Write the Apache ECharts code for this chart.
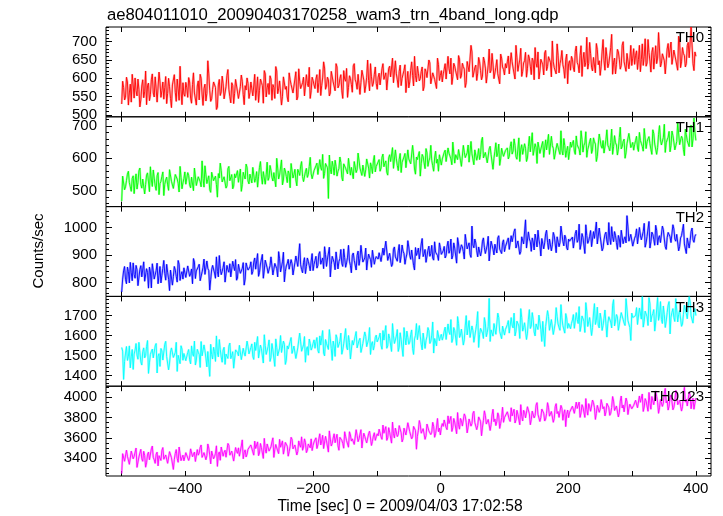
<!DOCTYPE html>
<html>
<head>
<meta charset="utf-8">
<script src="https://cdn.jsdelivr.net/npm/echarts@6/dist/echarts.min.js"></script>
<style>html,body{margin:0;padding:0;background:#fff;}#c{width:723px;height:516px;}</style>
</head>
<body>
<div id="c"></div>
<script>
// ---- data (counts/sec). Main bins start at T_START every T_STEP s; *_mid bins lie half a step later ----
const T_START = -500, T_STEP = 3;
const panelNames = ['TH0', 'TH1', 'TH2', 'TH3', 'TH0123'];
const TH0 = [530,575,548,590,560,535,582,601,552,570,541,596,563,528,587,555,612,549,571,530,590,566,543,605,559,577,520,584,562,598,540,569,588,551,
574,602,546,583,560,527,593,611,557,572,538,648,566,544,590,575,521,597,563,585,549,608,570,533,581,559,600,545,577,592,528,568,586,
561,595,579,540,604,567,589,532,612,574,556,598,583,545,620,571,590,551,607,578,536,596,585,563,618,549,592,575,603,557,586,630,566,594,
572,610,589,553,601,628,579,596,560,615,587,640,574,599,566,621,592,548,607,583,634,596,570,612,589,625,561,603,594,640,578,611,586,
603,582,626,597,615,571,633,605,588,648,596,619,580,611,637,593,574,622,608,660,590,614,599,631,577,618,605,642,586,613,600,655,594,621,
612,640,598,627,655,604,633,618,662,600,641,625,588,650,619,672,607,636,614,645,596,658,628,611,680,622,639,603,651,617,666,631,609,
628,661,614,645,632,690,619,650,605,642,671,626,655,610,648,684,630,598,652,637,669,621,659,644,702,629,612,663,640,676,625,651,585,648,
660,628,674,643,615,689,650,632,712,641,667,620,656,695,637,608,672,648,684,629,661,720,644,612,679,652,635,700,646,668,626,690,655,
638,675,652,618,694,660,633,706,647,671,625,689,655,730,641,668,612,680,657,699,636,672,648,715,629,684,662,640,698,655,738,621,660];
const TH0_mid = [592,541,603,527,584,611,546,566,598,522,579,547,620,581,539,596,560,604,535,617,548,590,575,531,600,545,582,610,537,571,633,528,557,589,
548,590,532,615,561,579,541,600,526,584,559,612,537,570,595,515,582,553,606,544,577,624,550,588,531,597,563,540,609,556,580,601,545,
590,552,611,568,534,598,580,621,549,586,607,540,575,632,558,593,527,604,570,549,615,583,560,598,541,626,572,588,552,610,577,545,603,582,
598,561,624,580,645,570,603,552,619,590,566,631,581,610,545,598,627,575,600,562,640,588,611,556,622,595,579,650,566,604,587,631,570,
614,585,640,596,568,627,604,655,588,612,575,636,600,622,561,619,590,645,579,607,633,593,618,566,626,602,650,585,615,597,572,638,608,590,
625,598,660,612,583,641,620,596,652,607,632,575,646,618,690,603,629,594,657,621,606,648,587,636,615,668,599,630,612,585,655,624,640,
645,612,670,628,598,656,637,682,619,648,603,664,633,655,596,641,672,620,650,609,676,632,661,604,645,626,694,615,652,637,600,666,640,622,
652,618,688,636,662,605,671,644,625,698,630,657,615,679,648,633,706,622,660,640,684,611,655,638,672,625,690,645,619,667,650,635,681,
663,624,690,651,635,708,642,670,617,684,656,640,725,631,667,648,612,695,660,638,677,650,622,702,645,668,631,689,656,740,640,672];
const TH1 = [468,540,512,551,525,498,546,530,505,561,519,536,490,548,527,574,513,539,501,556,522,544,485,533,518,565,529,507,550,536,496,541,524,558,
521,547,509,538,570,516,543,528,592,511,549,535,503,557,531,545,480,539,562,522,548,515,575,533,506,552,541,526,567,519,546,582,530,
551,524,566,538,511,572,545,559,520,588,541,563,530,555,600,536,549,518,570,544,561,509,578,550,533,566,547,590,528,559,541,575,552,536,
562,585,547,571,612,553,580,476,566,591,548,575,560,604,541,583,569,552,596,572,537,588,565,620,558,579,544,598,570,586,553,609,575,
581,560,603,574,592,548,611,585,569,626,578,597,556,589,615,572,598,583,640,567,604,590,545,612,586,630,575,601,593,560,622,597,611,579,
604,625,588,616,598,650,585,610,627,594,571,619,603,641,592,614,580,632,607,596,655,601,618,586,629,611,566,622,605,644,598,617,609,
620,598,636,613,660,605,628,590,642,617,631,601,668,622,609,645,584,633,619,652,608,626,674,615,639,597,631,648,612,625,661,603,637,620,
634,655,612,641,628,685,619,647,603,638,662,626,651,590,644,672,631,616,657,640,623,690,636,648,610,664,629,652,600,645,677,633,649,
642,668,621,655,637,692,630,660,645,612,676,650,633,701,641,664,618,657,683,639,670,626,652,715,644,661,608,673,650,695,635,724,655];
const TH1_mid = [545,503,531,560,512,538,491,552,526,570,508,541,519,555,497,533,564,515,546,488,529,558,520,542,501,567,534,511,549,523,575,506,537,520,
556,518,542,500,565,530,549,512,538,577,522,546,495,560,534,519,553,585,527,543,508,568,531,550,514,540,562,525,498,557,536,572,521,
538,572,526,559,543,590,520,565,549,532,578,541,556,512,570,548,595,533,561,525,553,584,539,566,515,557,576,544,529,569,550,603,537,562,
577,550,596,563,538,584,571,610,552,575,594,545,568,587,530,579,561,600,548,573,590,556,616,570,547,582,565,604,539,575,592,558,580,
596,570,613,585,557,601,590,633,575,598,562,615,588,604,571,626,594,579,610,551,596,621,583,605,568,617,592,640,577,601,585,560,612,598,
618,590,632,607,580,645,611,596,623,575,640,602,617,588,652,609,626,594,630,612,665,598,621,585,637,610,600,648,616,578,631,606,624,
632,606,651,622,640,597,663,628,612,645,590,637,620,679,608,633,650,615,641,603,657,626,612,668,631,598,646,622,685,610,639,624,596,650,
646,622,669,637,610,658,640,682,627,652,615,663,644,606,675,638,655,620,688,633,649,612,670,641,628,696,636,659,617,651,682,640,625,
655,632,680,646,622,697,651,667,628,688,644,612,673,657,636,705,648,665,620,684,650,639,710,642,668,627,690,654,636,702,660,681];
const TH2 = [765,842,810,856,798,835,871,815,846,790,861,827,804,850,779,838,868,812,843,795,858,826,880,808,837,770,852,821,845,801,866,829,812,849,
818,863,831,795,874,842,857,806,838,885,824,851,772,846,869,815,840,898,828,855,801,862,837,820,877,843,808,866,833,851,790,871,845,
856,829,874,848,905,836,862,815,881,853,840,893,827,869,850,912,838,875,802,860,884,845,868,821,896,858,941,847,873,832,889,861,878,843,
880,852,903,866,889,930,858,884,820,895,872,911,849,886,869,922,855,892,877,835,907,881,898,862,935,874,889,845,903,883,917,866,894,
885,912,871,899,950,880,906,858,921,893,877,938,896,914,866,903,929,884,911,845,898,925,889,960,904,873,917,895,935,881,910,898,944,902,
915,889,932,906,958,897,925,870,940,912,929,885,948,919,902,1005,926,944,893,931,915,962,905,936,878,950,921,939,907,970,928,945,912,
936,962,917,948,985,925,951,902,966,940,1028,931,958,913,947,976,929,955,896,962,944,990,920,951,937,970,908,959,945,1001,933,962,918,950,
957,925,978,946,1012,939,964,905,971,952,989,930,960,1020,944,968,915,955,983,936,962,1003,948,971,920,958,990,941,966,1043,950,975,932,
961,995,938,972,950,1015,944,968,925,983,957,1008,936,970,949,992,930,963,985,945,1010,958,975,915,962,990,940,905,967,952,998,946,975];
const TH2_mid = [812,858,795,840,873,806,829,862,788,847,820,875,803,836,856,780,842,815,870,826,798,851,833,866,811,845,790,858,822,880,807,839,853,818,
860,822,849,887,814,838,866,801,855,829,878,843,810,862,834,893,820,851,840,875,808,846,868,825,859,883,816,848,835,872,812,857,839,
875,840,889,853,822,867,902,845,878,833,861,895,848,874,820,886,856,910,839,869,848,883,827,872,899,851,864,835,890,858,877,842,905,866,
895,862,912,878,850,901,885,928,866,893,846,908,876,920,858,890,871,935,862,899,880,845,914,887,903,869,925,878,892,855,910,884,901,
908,876,925,893,944,880,911,866,929,897,915,872,936,905,888,952,899,918,862,927,909,885,940,894,920,873,932,905,889,948,912,880,926,903,
931,898,950,917,885,944,925,963,906,937,912,975,922,944,891,936,958,915,929,896,950,927,910,968,918,945,900,938,962,921,905,955,930,
952,920,970,941,995,928,956,912,973,945,925,984,948,962,918,955,990,936,960,922,977,946,958,915,982,940,966,930,1005,950,972,926,958,944,
965,932,990,955,920,978,960,1010,942,968,930,985,956,940,998,962,925,975,950,1018,938,966,985,945,971,928,990,958,944,1002,952,968,936,
970,940,1000,955,985,928,968,1022,948,975,935,990,962,945,1005,958,920,982,966,940,995,950,978,930,970,1012,944,962,925,985,955,968];
const TH3 = [1540,1380,1512,1475,1548,1493,1430,1527,1502,1566,1468,1519,1488,1545,1410,1506,1532,1479,1560,1497,1445,1523,1485,1571,1501,1462,1538,1490,1515,1420,1507,1549,1476,1520,
1483,1530,1458,1509,1572,1476,1516,1440,1498,1553,1487,1520,1395,1505,1541,1470,1512,1580,1492,1527,1455,1508,1547,1484,1519,1430,1535,1498,1560,1474,1513,1490,1545,
1502,1558,1480,1525,1595,1497,1534,1462,1549,1515,1578,1490,1528,1445,1541,1506,1600,1519,1556,1475,1532,1570,1510,1547,1485,1538,1612,1521,1553,1466,1544,1582,1527,1560,
1536,1590,1512,1552,1625,1498,1561,1530,1583,1475,1547,1604,1540,1571,1506,1558,1635,1528,1566,1491,1552,1597,1538,1575,1515,1560,1618,1544,1582,1505,1569,1550,1602,
1560,1612,1531,1577,1650,1548,1586,1520,1598,1565,1630,1541,1579,1495,1590,1622,1556,1604,1535,1583,1660,1570,1597,1528,1611,1575,1640,1560,1602,1512,1589,1625,1574,1606,
1595,1642,1570,1618,1680,1583,1625,1551,1660,1601,1635,1578,1700,1612,1590,1648,1566,1629,1720,1604,1640,1585,1662,1615,1786,1628,1597,1655,1610,1690,1621,1647,1602,
1638,1675,1606,1652,1712,1621,1660,1585,1690,1640,1668,1612,1730,1647,1680,1598,1655,1702,1630,1671,1545,1650,1695,1634,1677,1615,1740,1658,1626,1688,1644,1710,1636,1669,
1660,1705,1632,1681,1745,1648,1690,1615,1722,1668,1697,1640,1760,1675,1652,1712,1625,1686,1738,1661,1700,1638,1780,1672,1694,1620,1715,1680,1650,1732,1668,1575,1690,
1685,1740,1660,1712,1795,1672,1725,1650,1760,1698,1730,1667,1790,1703,1680,1748,1640,1715,1770,1692,1735,1670,1795,1705,1726,1658,1752,1710,1683,1768,1695,1722,1700];
const TH3_mid = [1522,1470,1545,1496,1438,1530,1507,1560,1481,1515,1452,1538,1499,1575,1463,1520,1488,1548,1412,1509,1535,1477,1556,1494,1428,1517,1542,1485,1566,1501,1459,1532,1510,1474,
1515,1478,1548,1496,1452,1531,1505,1570,1489,1524,1443,1510,1556,1482,1519,1598,1493,1530,1466,1541,1507,1485,1562,1500,1436,1528,1515,1551,1479,1536,1497,1572,1508,
1540,1495,1566,1518,1487,1552,1530,1604,1505,1545,1470,1560,1526,1583,1498,1537,1515,1572,1455,1548,1528,1590,1511,1556,1480,1543,1568,1520,1595,1533,1501,1561,1540,1578,
1569,1525,1598,1550,1512,1580,1557,1630,1534,1572,1495,1588,1546,1612,1528,1565,1541,1600,1482,1575,1553,1620,1532,1586,1510,1570,1596,1545,1640,1558,1527,1590,1568,
1592,1551,1625,1575,1536,1608,1582,1660,1560,1597,1520,1614,1570,1640,1553,1590,1567,1628,1505,1601,1579,1650,1556,1612,1535,1596,1624,1571,1668,1585,1548,1618,1594,1577,
1622,1580,1658,1605,1565,1640,1615,1695,1590,1632,1552,1648,1603,1675,1586,1625,1598,1662,1540,1636,1612,1690,1594,1645,1570,1628,1660,1606,1712,1620,1584,1652,1630,
1655,1612,1690,1638,1598,1672,1648,1735,1622,1664,1580,1682,1635,1715,1618,1658,1630,1700,1570,1668,1645,1725,1626,1680,1605,1662,1695,1640,1755,1650,1612,1688,1660,1634,
1678,1636,1715,1660,1620,1698,1672,1765,1645,1690,1600,1708,1655,1742,1638,1682,1650,1728,1592,1694,1668,1752,1648,1705,1626,1686,1720,1662,1785,1675,1640,1712,1684,
1700,1655,1738,1682,1642,1722,1694,1790,1668,1710,1622,1728,1676,1770,1660,1704,1672,1752,1608,1716,1690,1785,1668,1725,1646,1706,1745,1684,1795,1698,1662,1735];
const TH0123 = [3250,3455,3380,3420,3340,3470,3395,3435,3310,3412,3488,3370,3428,3355,3460,3402,3520,3385,3440,3325,3415,3476,3390,3432,3350,3465,3405,3290,3448,3398,3510,3376,3430,3412,
3440,3378,3492,3415,3460,3352,3430,3505,3408,3455,3385,3540,3432,3470,3395,3448,3320,3462,3510,3420,3478,3400,3525,3446,3480,3375,3468,3502,3430,3580,3455,3412,3488,
3472,3520,3430,3495,3560,3452,3505,3398,3488,3540,3470,3512,3600,3485,3530,3445,3508,3570,3492,3536,3420,3515,3585,3500,3548,3466,3530,3610,3510,3555,3478,3540,3590,3525,
3548,3495,3590,3530,3625,3512,3570,3460,3588,3545,3640,3560,3522,3605,3575,3498,3612,3580,3660,3568,3602,3530,3625,3590,3680,3584,3615,3550,3640,3598,3565,3650,3610,
3620,3668,3585,3645,3710,3600,3655,3548,3640,3695,3612,3720,3650,3590,3685,3630,3760,3660,3610,3700,3488,3672,3730,3648,3692,3620,3745,3680,3655,3712,3640,3790,3695,3705,
3712,3765,3680,3740,3810,3698,3755,3640,3728,3790,3715,3835,3750,3705,3780,3740,3860,3762,3720,3805,3620,3770,3820,3748,3795,3730,3880,3785,3760,3815,3742,3900,3798,
3790,3842,3760,3815,3880,3775,3830,3728,3812,3870,3795,3905,3835,3780,3860,3820,3945,3848,3800,3882,3765,3840,3900,3825,3870,3790,3935,3858,3815,3890,3840,3710,3872,3850,
3868,3915,3830,3888,3950,3845,3900,3800,3878,3935,3860,3970,3895,3840,3925,3880,3990,3905,3852,3940,3820,3898,3960,3875,3918,3850,4010,3922,3870,3955,3890,3935,3902,
3920,3975,3885,3948,4030,3902,3960,3860,3938,4005,3925,4060,3950,3895,3990,3940,4085,3965,3910,4020,3875,3958,4040,3945,3985,3905,4095,3980,3930,4015,3955,3880,3990];
const TH0123_mid = [3445,3370,3480,3405,3335,3452,3418,3500,3362,3430,3395,3468,3312,3440,3385,3492,3408,3350,3460,3425,3378,3505,3398,3436,3345,3470,3412,3388,3485,3360,3442,3405,3375,3455,
3472,3410,3508,3440,3368,3485,3452,3530,3392,3466,3425,3500,3345,3478,3415,3522,3440,3380,3495,3458,3410,3545,3430,3470,3372,3505,3448,3420,3520,3395,3482,3440,3470,
3530,3462,3568,3498,3425,3545,3510,3595,3450,3525,3482,3560,3408,3535,3472,3585,3500,3440,3555,3518,3465,3605,3492,3530,3432,3570,3508,3478,3590,3455,3540,3502,3475,3560,
3600,3530,3640,3568,3495,3615,3582,3668,3520,3598,3552,3635,3478,3610,3545,3660,3572,3508,3628,3590,3535,3680,3562,3605,3500,3645,3580,3548,3665,3525,3618,3575,3640,
3685,3610,3725,3650,3575,3700,3665,3755,3598,3680,3632,3722,3560,3695,3628,3748,3660,3590,3712,3672,3615,3770,3645,3690,3585,3735,3668,3632,3752,3605,3705,3660,3628,3740,
3775,3700,3815,3738,3662,3790,3755,3848,3685,3770,3720,3812,3648,3785,3715,3840,3750,3680,3805,3762,3705,3865,3735,3780,3672,3825,3758,3720,3845,3692,3798,3752,3785,
3855,3780,3895,3818,3745,3870,3835,3925,3765,3850,3800,3892,3728,3862,3795,3920,3830,3760,3882,3842,3785,3945,3812,3858,3752,3905,3838,3800,3918,3772,3875,3830,3798,3868,
3910,3840,3950,3875,3800,3925,3890,3985,3822,3905,3858,3945,3780,3918,3850,3975,3885,3815,3938,3898,3840,4005,3868,3912,3805,3960,3892,3855,3990,3828,3930,3885,3918,
3968,3895,4010,3932,3858,3985,3950,4045,3880,3962,3915,4005,3840,3975,3908,4035,3942,3872,3995,3955,3898,4065,3925,3970,3862,4020,3950,3912,4050,3885,3988,3940];
const seriesMain = [TH0, TH1, TH2, TH3, TH0123];
const seriesMid = [TH0_mid, TH1_mid, TH2_mid, TH3_mid, TH0123_mid];

// axis ranges and tick labels
const X_MIN = -524.6, X_MAX = 423.7;
const xTickValues = [-500, -400, -300, -200, -100, 0, 100, 200, 300, 400];
const xLabelValues = [-400, -200, 0, 200, 400];
const yMins = [495, 451, 749, 1346, 3226];
const yMaxs = [740, 728, 1076, 1796, 4106];
const yLabelValues = [
  [500, 550, 600, 650, 700],
  [500, 600, 700],
  [800, 900, 1000],
  [1400, 1500, 1600, 1700],
  [3400, 3600, 3800, 4000]
];
const yMinorSteps = [10, 20, 20, 20, 50];
const colors = ['#ff0000', '#00ff00', '#0000ff', '#00ffff', '#ff00ff'];

// ---- build chart ----
const FONT = '"Liberation Sans", Arial, Helvetica, sans-serif';
const GRID_TOP = 27, GRID_H = 89.8, GRID_LEFT = 106, GRID_RIGHT = 12;
function stepValues(min, max, step) {
  const r = [];
  for (let v = Math.ceil(min / step) * step; v <= max; v += step) r.push(v);
  return r;
}
function buildData(main, mid) {
  const out = [];
  main.forEach((v, k) => {
    const t = T_START + k * T_STEP;
    out.push([t, v]);
    if (k < mid.length) out.push([t + T_STEP / 2, mid[k]]);
  });
  return out;
}
const fmt = v => (v < 0 ? '\u2212' + (-v) : String(v));
const grids = [], xAxes = [], yAxes = [], series = [], graphics = [];
panelNames.forEach((name, i) => {
  const top = GRID_TOP + i * GRID_H;
  const last = i === panelNames.length - 1;
  grids.push({ left: GRID_LEFT, right: GRID_RIGHT, top: top, height: GRID_H, show: true,
    borderColor: '#000', borderWidth: 1, backgroundColor: 'transparent' });
  const xBase = { gridIndex: i, type: 'value', min: X_MIN, max: X_MAX,
    splitLine: { show: false }, axisLine: { show: false, onZero: false } };
  const xTick = { show: true, inside: true, length: 5, customValues: xTickValues,
    lineStyle: { color: '#000', width: 1 } };
  xAxes.push(Object.assign({}, xBase, { position: 'bottom', axisTick: xTick,
    axisLabel: { show: last, customValues: xLabelValues, margin: 5, color: '#000',
      fontSize: 15, fontFamily: FONT, formatter: fmt } }));
  xAxes.push(Object.assign({}, xBase, { position: 'top', axisTick: xTick, axisLabel: { show: false } }));
  const minorVals = stepValues(yMins[i], yMaxs[i], yMinorSteps[i]);
  const yBase = { gridIndex: i, type: 'value', min: yMins[i], max: yMaxs[i],
    splitLine: { show: false }, axisLine: { show: false, onZero: false } };
  ['left', 'right'].forEach(pos => {
    yAxes.push(Object.assign({}, yBase, { position: pos,
      axisTick: { show: true, inside: true, length: 6, customValues: yLabelValues[i], lineStyle: { color: '#000' } },
      axisLabel: { show: pos === 'left', customValues: yLabelValues[i], margin: 9, color: '#000',
        fontSize: 15, fontFamily: FONT, formatter: fmt } }));
    yAxes.push(Object.assign({}, yBase, { position: pos,
      axisTick: { show: true, inside: true, length: 3, customValues: minorVals, lineStyle: { color: '#000' } },
      axisLabel: { show: false } }));
  });
  const data = buildData(seriesMain[i], seriesMid[i]);
  series.push({ type: 'line', xAxisIndex: 2 * i, yAxisIndex: 4 * i, data: data, showSymbol: false,
    symbol: 'none', silent: true, z: 1, sampling: 'none',
    lineStyle: { color: colors[i], width: 2.2, opacity: 0.3 } });
  series.push({ type: 'line', xAxisIndex: 2 * i, yAxisIndex: 4 * i, data: data, showSymbol: false,
    symbol: 'none', silent: true, z: 2, sampling: 'none',
    lineStyle: { color: colors[i], width: 0.9 } });
  graphics.push({ type: 'text', x: 704, y: top + 11, z: 10,
    style: { text: name, fill: '#000', font: '15px ' + FONT, align: 'right', verticalAlign: 'middle',
      textAlign: 'right', textVerticalAlign: 'middle' } });
});
graphics.push({ type: 'text', x: 107, y: 15,
  style: { text: 'ae804011010_20090403170258_wam3_trn_4band_long.qdp', fill: '#000', font: '16.7px ' + FONT,
    align: 'left', verticalAlign: 'middle', textAlign: 'left', textVerticalAlign: 'middle' } });
graphics.push({ type: 'text', x: 400, y: 507,
  style: { text: 'Time [sec] 0 = 2009/04/03 17:02:58', fill: '#000', font: '15.6px ' + FONT,
    align: 'center', verticalAlign: 'middle', textAlign: 'center', textVerticalAlign: 'middle' } });
graphics.push({ type: 'text', x: 39, y: 251, rotation: Math.PI / 2,
  style: { text: 'Counts/sec', fill: '#000', font: '15px ' + FONT,
    align: 'center', verticalAlign: 'middle', textAlign: 'center', textVerticalAlign: 'middle' } });

const chart = echarts.init(document.getElementById('c'), null, { renderer: 'canvas' });
chart.setOption({
  animation: false,
  backgroundColor: '#fff',
  grid: grids,
  xAxis: xAxes,
  yAxis: yAxes,
  series: series,
  graphic: graphics
});
</script>
</body>
</html>
